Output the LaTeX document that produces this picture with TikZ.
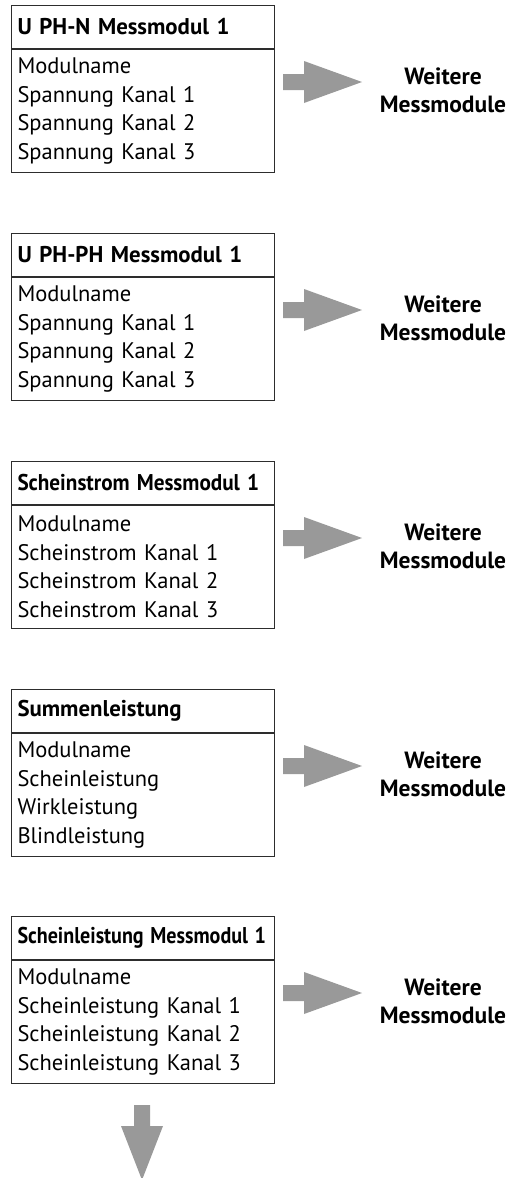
\documentclass[tikz,border=0pt]{standalone}
\usepackage{fontspec}
\usepackage{graphicx}
\setmainfont{PT Sans}
\usetikzlibrary{positioning,calc}

\definecolor{arrowgray}{RGB}{153,153,153}
\definecolor{boxline}{RGB}{45,45,45}

\tikzset{
  modhead/.style={draw=boxline, line width=1pt, anchor=north west, minimum height=43pt,
    text width=251pt, inner xsep=6pt, align=left, font=\fontsize{22.8}{26}\selectfont\bfseries},
  modbody/.style={draw=boxline, line width=1pt, anchor=north west, minimum height=123pt,
    text width=251pt, inner xsep=6pt, align=left, font=\fontsize{22.5}{28.5}\selectfont},
  more/.style={align=center, font=\fontsize{23.5}{28}\selectfont\bfseries},
  fatarrow/.style={fill=arrowgray, draw=none}
}

\begin{document}
\begin{tikzpicture}[x=1pt,y=-1pt]
\useasboundingbox (0,0) rectangle (524,1178);

% Messmodule
\node[modhead] (h1) at (11,5) {U PH-N Messmodul 1};
\node[modbody] (b1) at (h1.south west) {Modulname\\Spannung Kanal 1\\Spannung Kanal 2\\Spannung Kanal 3};

\node[modhead] (h2) at (11,233) {U PH-PH Messmodul 1};
\node[modbody] (b2) at (h2.south west) {Modulname\\Spannung Kanal 1\\Spannung Kanal 2\\Spannung Kanal 3};

\node[modhead] (h3) at (11,461) {\scalebox{0.93}[1]{Scheinstrom Messmodul 1}};
\node[modbody] (b3) at (h3.south west) {Modulname\\Scheinstrom Kanal 1\\Scheinstrom Kanal 2\\Scheinstrom Kanal 3};

\node[modhead] (h4) at (11,689) {Summenleistung};
\node[modbody] (b4) at (h4.south west) {Modulname\\Scheinleistung\\Wirkleistung\\Blindleistung};

\node[modhead] (h5) at (11,916) {\scalebox{0.88}[1]{Scheinleistung Messmodul 1}};
\node[modbody] (b5) at (h5.south west) {Modulname\\Scheinleistung Kanal 1\\Scheinleistung Kanal 2\\Scheinleistung Kanal 3};

% Pfeile nach rechts
\foreach \n/\y in {1/5,2/233,3/461,4/689,5/916} {
  \node[more] (more\n) at (443,\y+85) {Weitere\\Messmodule};
  \fill[fatarrow] ($(b\n.north east)+(8,25)$) -- ++(21,0) -- ++(0,-13) -- ++(58,21)
    -- ++(-58,21) -- ++(0,-13) -- ++(-21,0) -- cycle;
}

% Pfeil nach unten
\fill[fatarrow] ($(b5.south)+(-9,21)$) -- ++(16,0) -- ++(0,21) -- ++(13,0) -- ++(-21,54)
  -- ++(-21,-54) -- ++(13,0) -- cycle;
\end{tikzpicture}
\end{document}
